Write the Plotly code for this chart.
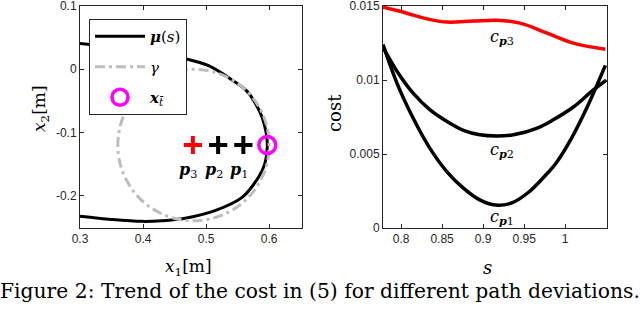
import plotly.graph_objects as go

# ---------------- data ----------------
# left panel: nominal path mu(s)
mu_x = [0.300, 0.350, 0.400, 0.430, 0.462, 0.503, 0.541, 0.565, 0.578, 0.590, 0.597,
        0.593, 0.583, 0.557, 0.514, 0.467, 0.430, 0.398, 0.350, 0.300]
mu_y = [0.041, 0.036, 0.030, 0.025, 0.018, 0.006, -0.017, -0.035, -0.054, -0.080, -0.118,
        -0.150, -0.171, -0.203, -0.224, -0.236, -0.240, -0.241, -0.238, -0.233]
# left panel: path gamma
gam_x = [0.600, 0.596, 0.584, 0.565, 0.540, 0.511, 0.480, 0.449, 0.420, 0.395, 0.376, 0.364,
         0.360, 0.364, 0.376, 0.395, 0.420, 0.449, 0.480, 0.511, 0.540, 0.565, 0.584, 0.596, 0.600]
gam_y = [-0.120, -0.089, -0.060, -0.035, -0.016, -0.004, 0.000, -0.004, -0.016, -0.035, -0.060, -0.089,
         -0.120, -0.151, -0.180, -0.205, -0.224, -0.236, -0.240, -0.236, -0.224, -0.205, -0.180, -0.151, -0.120]
# target point and deviated points
xt = [0.597]
yt = [-0.120]
p_names = ["p1", "p2", "p3"]
p_x = [0.559, 0.519, 0.479]
p_y = [-0.120, -0.120, -0.120]

# right panel: cost curves
s_p3 = [0.778, 0.800, 0.815, 0.835, 0.856, 0.888, 0.917, 0.945, 0.978, 1.010, 1.049]
c_p3 = [0.01493, 0.01464, 0.01439, 0.01410, 0.01392, 0.01399, 0.01405, 0.01385, 0.01318, 0.01250, 0.01209]
s_p2 = [0.778, 0.795, 0.815, 0.835, 0.856, 0.876, 0.896, 0.917, 0.937, 0.966, 0.985, 1.010, 1.034, 1.050]
c_p2 = [0.01223, 0.01060, 0.00910, 0.00800, 0.00720, 0.00660, 0.00630, 0.00622, 0.00630,
        0.00676, 0.00730, 0.00818, 0.00932, 0.01000]
s_p1 = [0.778, 0.795, 0.815, 0.835, 0.856, 0.876, 0.896, 0.915, 0.935, 0.955, 0.975, 0.989, 1.008, 1.027, 1.049]
c_p1 = [0.01240, 0.00980, 0.00740, 0.00540, 0.00380, 0.00270, 0.00190, 0.00155, 0.00170, 0.00240,
        0.00350, 0.00440, 0.00610, 0.00820, 0.01100]

left_xticks = [0.3, 0.4, 0.5, 0.6]
left_xticktext = ["0.3", "0.4", "0.5", "0.6"]
left_yticks = [-0.2, -0.1, 0.0, 0.1]
left_yticktext = ["-0.2", "-0.1", "0", "0.1"]
right_xticks = [0.8, 0.85, 0.9, 0.95, 1.0]
right_xticktext = ["0.8", "0.85", "0.9", "0.95", "1"]
right_yticks = [0.0, 0.005, 0.01, 0.015]
right_yticktext = ["0", "0.005", "0.01", "0.015"]

caption = "Figure 2: Trend of the cost in (5) for different path deviations."

# ---------------- figure ----------------
SERIF = "DejaVu Serif"
SANS = "Liberation Sans"
AXC = "#262626"
GRAY = "#BDBDBD"
MAG = "#FF00FF"

fig = go.Figure()

fig.add_trace(go.Scatter(x=mu_x, y=mu_y, mode="lines", line=dict(color="black", width=3, shape="spline"),
                         name="<b><i>μ</i></b>(<i>s</i>)", legendgroup="a", xaxis="x", yaxis="y"))
fig.add_trace(go.Scatter(x=gam_x, y=gam_y, mode="lines",
                         line=dict(color=GRAY, width=3, shape="spline", dash="10px,4px,3px,4px"),
                         name="<i>γ</i>", legendgroup="b", xaxis="x", yaxis="y"))
fig.add_trace(go.Scatter(x=p_x[:2], y=p_y[:2], mode="markers",
                         marker=dict(symbol="cross-thin", size=13, color="black",
                                     line=dict(color="black", width=4)),
                         showlegend=False, xaxis="x", yaxis="y"))
fig.add_trace(go.Scatter(x=p_x[2:], y=p_y[2:], mode="markers",
                         marker=dict(symbol="cross-thin", size=13, color="red",
                                     line=dict(color="red", width=4)),
                         showlegend=False, xaxis="x", yaxis="y"))
fig.add_trace(go.Scatter(x=xt, y=yt, mode="markers",
                         marker=dict(symbol="circle-open", size=17, color=MAG, line=dict(color=MAG, width=3.5)),
                         name="<b><i>x</i></b><sub><i>t̄</i></sub>", legendgroup="c", xaxis="x", yaxis="y"))

fig.add_trace(go.Scatter(x=s_p3, y=c_p3, mode="lines", line=dict(color="red", width=3.5, shape="spline"),
                         showlegend=False, xaxis="x2", yaxis="y2"))
fig.add_trace(go.Scatter(x=s_p2, y=c_p2, mode="lines", line=dict(color="black", width=3.5, shape="spline"),
                         showlegend=False, xaxis="x2", yaxis="y2"))
fig.add_trace(go.Scatter(x=s_p1, y=c_p1, mode="lines", line=dict(color="black", width=3.5, shape="spline"),
                         showlegend=False, xaxis="x2", yaxis="y2"))

W, H = 640, 313
def px_x(p):
    return p / W
def px_y(p):
    return (H - p) / H

axis_common = dict(showline=True, mirror="ticks", linecolor=AXC, linewidth=1, ticks="inside",
                   ticklen=4, tickcolor=AXC, showgrid=False, zeroline=False, automargin=False,
                   ticklabeloverflow="allow",
                   tickfont=dict(family=SANS, size=12, color=AXC))

fig.update_layout(
    template="none",
    width=W, height=H, margin=dict(l=0, r=0, t=0, b=0, autoexpand=False),
    paper_bgcolor="white", plot_bgcolor="white",
    xaxis=dict(domain=[px_x(80), px_x(302)], range=[0.3, 0.652], anchor="y",
               tickvals=left_xticks, ticktext=left_xticktext, **axis_common),
    yaxis=dict(domain=[px_y(228), px_y(6)], range=[-0.2515, 0.1002], anchor="x",
               tickvals=left_yticks, ticktext=left_yticktext, **axis_common),
    xaxis2=dict(domain=[px_x(383), px_x(607)], range=[0.778, 1.051], anchor="y2",
                tickvals=right_xticks, ticktext=right_xticktext, **axis_common),
    yaxis2=dict(domain=[px_y(228), px_y(6)], range=[0, 0.01501], anchor="x2",
                tickvals=right_yticks, ticktext=right_yticktext, **axis_common),
    showlegend=True,
    legend=dict(x=px_x(89), y=px_y(19), xanchor="left", yanchor="top",
                bgcolor="white", bordercolor=AXC, borderwidth=1,
                font=dict(family=SERIF, size=15, color="black"),
                traceorder="grouped", tracegroupgap=8, itemwidth=50),
)

CM = dict(xanchor="center", yanchor="middle", showarrow=False)
ann = []
# point labels
for i, nm in enumerate(p_names):
    lbl = "<b><i>p</i></b><sub>%s</sub>" % nm[1]
    ann.append(dict(x=p_x[i] - 0.007, y=-0.160, xref="x", yref="y", text=lbl,
                    font=dict(family=SERIF, size=16, color="black"), **CM))
# cost labels
for lbl_n, cy in [("3", 0.0129), ("2", 0.00527), ("1", 0.00074)]:
    ann.append(dict(x=0.923, y=cy, xref="x2", yref="y2",
                    text="<i>c</i><sub><b><i>p</i></b>%s</sub>" % lbl_n,
                    font=dict(family=SERIF, size=16, color="black"), **CM))
# axis titles
ann.append(dict(x=px_x(188), y=px_y(267), xref="paper", yref="paper", text="<i>x</i><sub>1</sub>[m]",
                font=dict(family=SERIF, size=17, color="black"), **CM))
ann.append(dict(x=px_x(487), y=px_y(267), xref="paper", yref="paper", text="<i>s</i>",
                font=dict(family=SERIF, size=18, color="black"), **CM))
ann.append(dict(x=px_x(41), y=px_y(109), xref="paper", yref="paper", text="<i>x</i><sub>2</sub>[m]",
                textangle=-90, font=dict(family=SERIF, size=17, color="black"), **CM))
ann.append(dict(x=px_x(334), y=px_y(113), xref="paper", yref="paper", text="cost",
                textangle=-90, font=dict(family=SERIF, size=18, color="black"), **CM))
# caption
ann.append(dict(x=0.5, y=px_y(291), xref="paper", yref="paper", text=caption,
                font=dict(family=SERIF, size=20.3, color="black"), **CM))
fig.update_layout(annotations=ann)

fig.write_html("out.html", config={"displayModeBar": False},
               post_script="document.body.style.margin='0';document.body.style.overflow='hidden';")
